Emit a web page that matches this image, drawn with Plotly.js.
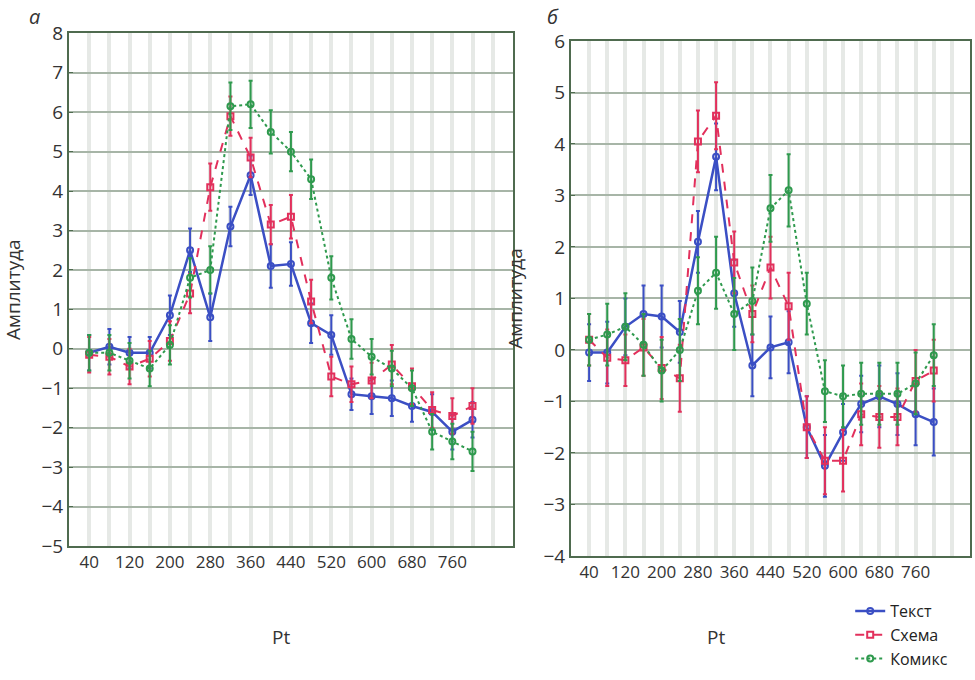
<!DOCTYPE html>
<html>
<head>
<meta charset="utf-8">
<script src="https://cdn.plot.ly/plotly-3.0.1.min.js"></script>
<style>
  html, body { margin: 0; padding: 0; background: #ffffff; }
  #chart { width: 975px; height: 680px; }
</style>
</head>
<body>
<div id="chart"></div>
<script>
// ---- Data ----
const pt = [40, 80, 120, 160, 200, 240, 280, 320, 360, 400, 440, 480, 520, 560, 600, 640, 680, 720, 760, 800];
const xTickVals = [40, 120, 200, 280, 360, 440, 520, 600, 680, 760];
const seriesNames = ["Текст", "Схема", "Комикс"];

// Panel а
const textA   = [-0.1, 0.05, -0.1, -0.1, 0.85, 2.5, 0.8, 3.1, 4.4, 2.1, 2.15, 0.65, 0.35, -1.15, -1.2, -1.25, -1.45, -1.6, -2.1, -1.8];
const textAErr   = [0.45, 0.45, 0.4, 0.4, 0.5, 0.55, 0.6, 0.5, 0.5, 0.55, 0.55, 0.5, 0.5, 0.4, 0.45, 0.45, 0.4, 0.45, 0.45, 0.45];
const schemaA = [-0.15, -0.2, -0.45, -0.25, 0.2, 1.4, 4.1, 5.9, 4.85, 3.15, 3.35, 1.2, -0.7, -0.9, -0.8, -0.4, -0.95, -1.55, -1.7, -1.45];
const schemaAErr = [0.45, 0.45, 0.45, 0.45, 0.5, 0.5, 0.6, 0.5, 0.5, 0.5, 0.55, 0.55, 0.5, 0.45, 0.45, 0.5, 0.45, 0.45, 0.45, 0.45];
const comicA  = [-0.1, -0.1, -0.3, -0.5, 0.1, 1.8, 2.0, 6.15, 6.2, 5.5, 5.0, 4.3, 1.8, 0.25, -0.2, -0.5, -1.0, -2.1, -2.35, -2.6];
const comicAErr  = [0.45, 0.45, 0.45, 0.45, 0.5, 0.5, 0.6, 0.6, 0.6, 0.55, 0.5, 0.5, 0.55, 0.5, 0.45, 0.45, 0.45, 0.45, 0.45, 0.5];

// Panel б
const textB   = [-0.05, -0.05, 0.45, 0.7, 0.65, 0.35, 2.1, 3.75, 1.1, -0.3, 0.05, 0.15, -1.5, -2.25, -1.6, -1.05, -0.9, -1.05, -1.25, -1.4];
const textBErr   = [0.55, 0.6, 0.55, 0.55, 0.6, 0.6, 0.6, 0.65, 0.65, 0.6, 0.6, 0.6, 0.6, 0.6, 0.55, 0.55, 0.6, 0.6, 0.6, 0.65];
const schemaB = [0.2, -0.15, -0.2, 0.05, -0.35, -0.55, 4.05, 4.55, 1.7, 0.7, 1.6, 0.85, -1.5, -2.15, -2.15, -1.25, -1.3, -1.3, -0.6, -0.4];
const schemaBErr = [0.5, 0.55, 0.5, 0.55, 0.6, 0.65, 0.6, 0.65, 0.6, 0.55, 0.6, 0.65, 0.6, 0.65, 0.6, 0.6, 0.6, 0.55, 0.6, 0.6];
const comicB  = [0.2, 0.3, 0.45, 0.1, -0.4, 0.0, 1.15, 1.5, 0.7, 0.95, 2.75, 3.1, 0.9, -0.8, -0.9, -0.85, -0.85, -0.85, -0.65, -0.1];
const comicBErr  = [0.5, 0.6, 0.65, 0.6, 0.6, 0.6, 0.65, 0.7, 0.7, 0.65, 0.65, 0.7, 0.6, 0.6, 0.6, 0.6, 0.6, 0.6, 0.6, 0.6];

// ---- Styles ----
const colors = ["#3b4fc4", "#e2305c", "#2f9a4e"];
const dashes = ["solid", "dash", "dot"];
const symbols = ["circle-open", "square-open", "circle-open"];
const font = "'Open Sans', 'Noto Sans', sans-serif";

function mk(y, err, i, xa, ya, showLeg) {
  return {
    type: "scatter", mode: "lines+markers",
    x: pt, y: y, name: seriesNames[i],
    xaxis: xa, yaxis: ya, showlegend: showLeg,
    line: { color: colors[i], width: i === 0 ? 2.5 : 2, dash: dashes[i] },
    marker: { color: colors[i], symbol: symbols[i], size: 6, line: { width: 2, color: colors[i] } },
    error_y: { type: "data", array: err, visible: true, color: colors[i], thickness: 2, width: 2 }
  };
}

const data = [
  mk(textA, textAErr, 0, "x", "y", true),
  mk(schemaA, schemaAErr, 1, "x", "y", true),
  mk(comicA, comicAErr, 2, "x", "y", true),
  mk(textB, textBErr, 0, "x2", "y2", false),
  mk(schemaB, schemaBErr, 1, "x2", "y2", false),
  mk(comicB, comicBErr, 2, "x2", "y2", false)
];

function xAxis(dom, anchor) {
  return {
    domain: dom, anchor: anchor, range: [0, 880],
    tickmode: "array", tickvals: xTickVals,
    showgrid: true, gridcolor: "#e6e9e6", gridwidth: 4,
    minor: { tickmode: "linear", tick0: 0, dtick: 40, showgrid: true, gridcolor: "#e6e9e6", gridwidth: 4 },
    showline: true, mirror: true, linecolor: "#4f6b4f", linewidth: 2,
    ticks: "", zeroline: false,
    tickfont: { family: font, size: 17, color: "#333333" }
  };
}
function yAxis(dom, anchor, rng) {
  return {
    domain: dom, anchor: anchor, range: rng, dtick: 1, tick0: 0,
    showgrid: true, gridcolor: "#a7b5a7", gridwidth: 2,
    showline: true, mirror: true, linecolor: "#4f6b4f", linewidth: 2,
    ticks: "inside", ticklen: 4, tickcolor: "#4f6b4f", zeroline: false,
    tickfont: { family: font, size: 19, color: "#333333" },
    title: { text: "Амплитуда", font: { family: font, size: 19, color: "#333333" } }
  };
}

const layout = {
  width: 975, height: 680,
  margin: { l: 0, r: 0, t: 0, b: 0 },
  paper_bgcolor: "#ffffff", plot_bgcolor: "#ffffff",
  font: { family: font, color: "#333333" },
  xaxis: xAxis([0.0708, 0.526], "y"),
  yaxis: yAxis([0.197, 0.951], "x", [-5, 8]),
  xaxis2: xAxis([0.5856, 0.9949], "y2"),
  yaxis2: yAxis([0.1824, 0.9397], "x2", [-4, 6]),
  showlegend: true,
  legend: {
    x: 0.872, y: 1 - 594 / 680, xanchor: "left", yanchor: "top",
    font: { family: font, size: 16, color: "#222222" },
    bgcolor: "rgba(255,255,255,0)", tracegroupgap: 0, itemwidth: 30
  },
  annotations: [
    { text: "<i>а</i>", xref: "paper", yref: "paper", x: 27 / 975, y: 1 - 16 / 680, yanchor: "middle", showarrow: false,
      font: { family: font, size: 20, color: "#333333" } },
    { text: "<i>б</i>", xref: "paper", yref: "paper", x: 553 / 975, y: 1 - 16 / 680, yanchor: "middle", showarrow: false,
      font: { family: font, size: 20, color: "#333333" } },
    { text: "Pt", xref: "paper", yref: "paper", x: 270 / 975, y: 1 - 637 / 680, yanchor: "middle", showarrow: false,
      font: { family: font, size: 19, color: "#333333" } },
    { text: "Pt", xref: "paper", yref: "paper", x: 727 / 975, y: 1 - 637 / 680, yanchor: "middle", showarrow: false,
      font: { family: font, size: 19, color: "#333333" } }
  ]
};

Plotly.newPlot("chart", data, layout, { displayModeBar: false, staticPlot: true });
</script>
</body>
</html>
